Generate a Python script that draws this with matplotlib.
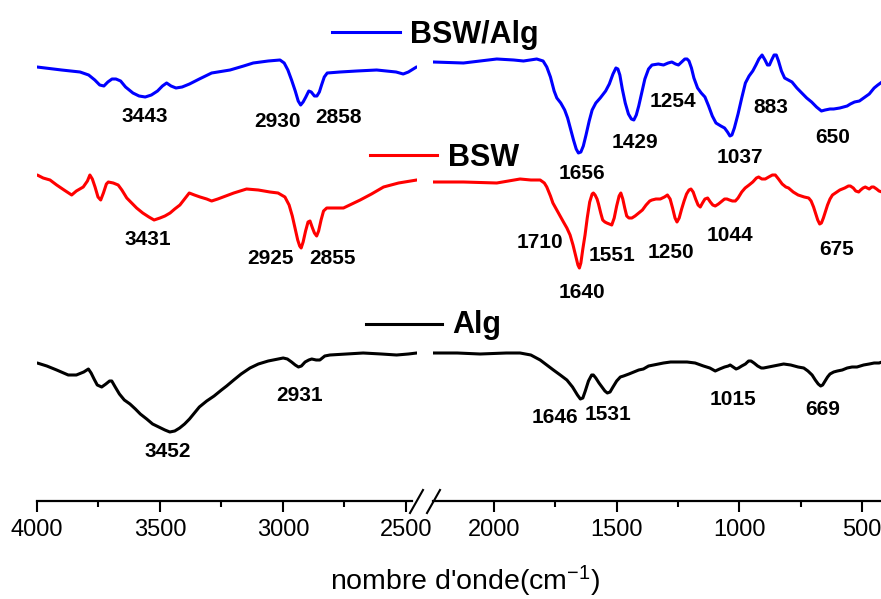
import matplotlib
matplotlib.use("Agg")
import matplotlib.pyplot as plt
from matplotlib.lines import Line2D
from matplotlib.ticker import MultipleLocator

plt.rcParams['font.family'] = ['Liberation Sans', 'DejaVu Sans']
plt.rcParams['mathtext.fontset'] = 'custom'
plt.rcParams['mathtext.rm'] = 'Liberation Sans'
plt.rcParams['mathtext.default'] = 'regular'

# ---------------- data (wavenumber cm-1, transmittance a.u., offset-stacked) ----------------
bsw_alg_wn = [4000, 3900, 3825, 3790, 3765, 3745, 3728, 3712, 3695, 3679, 3660, 3640, 3610, 3585,
              3560, 3535, 3510, 3490, 3473, 3455, 3435, 3410, 3380, 3340, 3290, 3215, 3160, 3121,
              3060, 3012, 2995, 2980, 2965, 2950, 2938, 2928, 2918, 2907, 2895, 2885, 2872, 2862,
              2852, 2843, 2832, 2820, 2768, 2700, 2619, 2540, 2511, 2490, 2470, 2457,
              2248, 2125, 1989, 1920, 1880, 1826, 1800, 1785, 1770, 1755, 1744, 1728, 1712, 1700,
              1688, 1676, 1665, 1656, 1646, 1636, 1625, 1612, 1600, 1585, 1567, 1545, 1530, 1515,
              1503, 1495, 1487, 1477, 1465, 1452, 1440, 1430, 1420, 1410, 1398, 1385, 1370, 1356,
              1330, 1309, 1290, 1275, 1260, 1248, 1235, 1222, 1213, 1205, 1195, 1185, 1170, 1155,
              1140, 1125, 1110, 1095, 1075, 1060, 1048, 1038, 1030, 1020, 1005, 990, 975, 960, 945,
              932, 920, 907, 895, 885, 877, 868, 858, 849, 840, 828, 815, 800, 785, 765, 745, 725,
              705, 685, 665, 650, 630, 615, 590, 560, 547, 530, 510, 493, 470, 450, 435, 418]
bsw_alg_t = [434, 431, 429, 426, 421, 416, 415, 419, 422, 422, 420, 414, 408, 405,
             404, 406, 410, 415, 418, 415, 413, 414, 417, 422, 428, 431, 435, 438,
             440, 441, 438, 431, 421, 410, 400, 396, 399, 404, 410, 409, 405, 405,
             409, 416, 424, 428, 429, 430, 431, 429, 427, 429, 432, 434,
             439, 438, 442, 441, 440, 442, 440, 434, 424, 410, 403, 398, 391, 383,
             372, 361, 352, 348, 349, 355, 366, 380, 391, 398, 403, 410, 417, 427,
             433, 432, 426, 412, 398, 387, 382, 381, 386, 395, 408, 422, 432, 436,
             437, 436, 438, 439, 437, 436, 439, 442, 442, 440, 433, 423, 413, 408,
             404, 395, 385, 378, 375, 373, 369, 365, 366, 373, 387, 403, 418, 425, 430,
             436, 442, 446, 441, 436, 436, 441, 446, 446, 440, 430, 423, 421, 419, 413, 408, 403,
             399, 394, 390, 391, 392, 392, 393, 395, 397, 399, 400, 403, 407, 413, 416, 419]

bsw_wn = [3999, 3975, 3947, 3920, 3890, 3859, 3840, 3812, 3795, 3785, 3775, 3764, 3752, 3741,
          3730, 3718, 3710, 3690, 3670, 3655, 3635, 3615, 3595, 3570, 3545, 3524, 3500, 3480,
          3459, 3440, 3419, 3400, 3381, 3360, 3337, 3310, 3290, 3265, 3243, 3200, 3148, 3100,
          3053, 3020, 2992, 2975, 2962, 2950, 2940, 2932, 2926, 2918, 2908, 2898, 2890, 2880,
          2872, 2863, 2855, 2845, 2835, 2822, 2790, 2754, 2720, 2686, 2640, 2591, 2530, 2456,
          2248, 2125, 1989, 1894, 1850, 1812, 1795, 1785, 1770, 1760, 1751, 1735, 1717, 1703,
          1690, 1678, 1666, 1658, 1652, 1646, 1638, 1629, 1620, 1610, 1600, 1595, 1588, 1580,
          1574, 1565, 1557, 1548, 1540, 1530, 1520, 1510, 1500, 1490, 1483, 1475, 1467, 1459,
          1450, 1438, 1425, 1410, 1395, 1380, 1365, 1356, 1340, 1322, 1305, 1293, 1282, 1272,
          1262, 1254, 1245, 1235, 1225, 1215, 1205, 1197, 1188, 1178, 1168, 1159, 1150, 1140,
          1129, 1118, 1108, 1098, 1085, 1070, 1060, 1050, 1040, 1028, 1016, 1005, 990, 976, 960,
          945, 930, 921, 908, 894, 880, 865, 853, 840, 825, 810, 799, 780, 760, 735, 717, 707,
          697, 688, 680, 672, 665, 657, 648, 640, 630, 620, 608, 590, 570, 555, 547, 535, 525,
          513, 505, 495, 486, 470, 460, 452, 440, 430, 418]
bsw_t = [326, 323, 321, 316, 311, 306, 310, 314, 320, 326, 322, 314, 304, 301,
         308, 317, 319, 318, 316, 311, 303, 298, 293, 288, 284, 281, 283, 285,
         288, 292, 296, 302, 308, 306, 304, 302, 300, 302, 304, 308, 312, 311,
         309, 308, 304, 296, 285, 272, 261, 255, 253, 259, 270, 279, 280, 273,
         268, 265, 270, 281, 290, 293, 293, 293, 297, 301, 307, 314, 318, 321,
         319, 319, 318, 322, 321, 321, 318, 314, 305, 298, 294, 287, 279, 273,
         266, 256, 244, 236, 233, 238, 252, 266, 283, 299, 307, 308, 306, 302,
         297, 288, 281, 279, 278, 277, 276, 283, 295, 305, 308, 302, 293, 285,
         283, 283, 285, 288, 291, 296, 300, 301, 302, 302, 304, 306, 302, 293,
         283, 279, 283, 292, 300, 307, 311, 312, 309, 302, 296, 294, 298, 302,
         303, 299, 296, 295, 297, 300, 302, 302, 301, 300, 300, 303, 309, 313, 316,
         319, 323, 324, 322, 322, 324, 326, 326, 322, 317, 314, 313, 309, 306, 304, 303, 300,
         294, 287, 281, 277, 278, 283, 290, 296, 302, 306, 308, 311, 313, 315, 315, 313, 310,
         309, 311, 313, 314, 312, 314, 314, 312, 310, 309]

alg_wn = [3999, 3960, 3920, 3873, 3840, 3810, 3791, 3780, 3768, 3755, 3737, 3720, 3705, 3696,
          3682, 3665, 3645, 3622, 3600, 3580, 3554, 3530, 3505, 3480, 3460, 3440, 3420, 3400,
          3380, 3360, 3340, 3310, 3280, 3250, 3229, 3200, 3170, 3134, 3100, 3060, 3020, 2999,
          2982, 2965, 2950, 2937, 2925, 2910, 2895, 2883, 2865, 2850, 2830, 2809, 2740, 2674,
          2600, 2538, 2490, 2456,
          2248, 2150, 2057, 1950, 1894, 1850, 1812, 1785, 1758, 1730, 1703, 1680, 1660, 1648,
          1638, 1628, 1615, 1602, 1595, 1585, 1572, 1560, 1548, 1538, 1527, 1515, 1500, 1485,
          1472, 1450, 1430, 1410, 1391, 1370, 1350, 1330, 1309, 1280, 1250, 1213, 1180, 1146,
          1120, 1098, 1080, 1060, 1045, 1037, 1025, 1013, 1003, 990, 975, 962, 952, 940, 925,
          910, 901, 880, 860, 840, 819, 790, 760, 737, 720, 703, 690, 678, 668, 660, 650, 640,
          630, 615, 600, 580, 560, 540, 520, 493, 470, 450, 430, 418]
alg_t = [138, 135, 131, 126, 126, 129, 132, 128, 122, 116, 114, 117, 120, 120,
         114, 107, 101, 97, 92, 87, 82, 77, 74, 71, 69, 70, 73, 77,
         82, 88, 94, 100, 105, 111, 115, 121, 127, 133, 137, 140, 142, 143,
         142, 139, 136, 134, 135, 139, 141, 142, 141, 141, 145, 146, 147, 148,
         147, 146, 147, 148,
         148, 148, 147, 148, 148, 146, 141, 136, 131, 126, 121, 114, 106, 102,
         103, 110, 120, 126, 126, 123, 118, 114, 110, 108, 109, 114, 120, 124,
         125, 127, 129, 131, 132, 135, 136, 137, 138, 139, 139, 139, 138, 135,
         133, 130, 132, 134, 135, 136, 134, 132, 133, 135, 137, 140, 140, 138, 135,
         133, 133, 134, 135, 136, 137, 136, 134, 133, 130, 126, 121, 117, 115, 116, 120, 124,
         127, 129, 130, 131, 133, 134, 134, 136, 137, 138, 138, 139]

# peak labels: text, label-centre wavenumber, label baseline (a.u.)
bsw_alg_peaks = ["3443", "2930", "2858", "1656", "1429", "1254", "1037", "883", "650"]
bsw_alg_peak_x = [3561, 3024, 2776, 1641, 1425, 1270, 997, 871, 618]
bsw_alg_peak_y = [379, 374, 378, 322, 353, 394, 338, 388, 358]

bsw_peaks = ["3431", "2925", "2855", "1710", "1640", "1551", "1250", "1044", "675"]
bsw_peak_x = [3549, 3049, 2797, 1812, 1641, 1519, 1278, 1038, 602]
bsw_peak_y = [256, 237, 237, 253, 203, 240, 243, 260, 246]

alg_peaks = ["3452", "2931", "1646", "1531", "1015", "669"]
alg_peak_x = [3467, 2931, 1751, 1535, 1026, 659]
alg_peak_y = [44, 100, 78, 81, 96, 86]

series_names = ["BSW/Alg", "BSW", "Alg"]
series_colors = ["#0000FF", "#FF0000", "#000000"]

left_ticks = [4000, 3500, 3000, 2500]
right_ticks = [2000, 1500, 1000, 500]

# ---------------- figure ----------------
W, H = 881, 599
fig = plt.figure(figsize=(W / 100, H / 100), dpi=100)


def fx(px):
    return px / W


def fy(py):
    return 1 - py / H


ax1 = fig.add_axes([fx(37), fy(501), fx(417) - fx(37), fy(0) - fy(501)])
ax2 = fig.add_axes([fx(433), fy(501), fx(881) - fx(433), fy(0) - fy(501)])

spectra = [(bsw_alg_wn, bsw_alg_t), (bsw_wn, bsw_t), (alg_wn, alg_t)]
peaks = [(bsw_alg_peaks, bsw_alg_peak_x, bsw_alg_peak_y),
         (bsw_peaks, bsw_peak_x, bsw_peak_y),
         (alg_peaks, alg_peak_x, alg_peak_y)]

for ax, lim in ((ax1, (4000, 2455)), (ax2, (2249, 422))):
    for (wn, t), col in zip(spectra, series_colors):
        ax.plot(wn, t, color=col, lw=2.2, solid_joinstyle='round', solid_capstyle='round')
    ax.set_xlim(*lim)
    ax.set_ylim(0, 501)
    for s in ("top", "left", "right"):
        ax.spines[s].set_visible(False)
    ax.spines["bottom"].set_linewidth(1.6)
    ax.set_yticks([])
    ax.xaxis.set_minor_locator(MultipleLocator(250))
    ax.tick_params(axis='x', which='major', direction='out', length=8, width=1.5,
                   labelsize=17, pad=5)
    ax.tick_params(axis='x', which='minor', direction='out', length=4.5, width=1.5)
    ax.patch.set_alpha(0)

ax1.set_xticks(left_ticks)
ax2.set_xticks(right_ticks)
ax1.spines["bottom"].set_bounds(4000, 2476)

for (labels, xs, ys), col in zip(peaks, series_colors):
    for lab, x, y in zip(labels, xs, ys):
        ax = ax1 if x > 2350 else ax2
        ax.text(x, y, lab, ha='center', va='baseline', fontsize=15,
                fontweight='bold', color='black')

# axis break marks
for x0 in (410, 427):
    fig.add_artist(Line2D([fx(x0), fx(x0 + 13)], [fy(513), fy(490)], color='black', lw=1.5,
                          transform=fig.transFigure))

# legend-like series labels
legend_specs = [(332, 400, 32, 410, 43), (370, 437, 155, 448, 166), (366, 442, 324, 452, 333)]
for (x0, x1, yl, xt, yt), name, col in zip(legend_specs, series_names, series_colors):
    fig.add_artist(Line2D([fx(x0), fx(x1)], [fy(yl), fy(yl)], color=col, lw=2.2,
                          transform=fig.transFigure))
    fig.text(fx(xt), fy(yt), name, ha='left', va='baseline', fontsize=22,
             fontweight='bold', color='black')

fig.text(fx(465), fy(590), r"nombre d'onde(cm$^{-1}$)", ha='center', va='baseline',
         fontsize=20.5)

fig.savefig("out.png", dpi=100)
